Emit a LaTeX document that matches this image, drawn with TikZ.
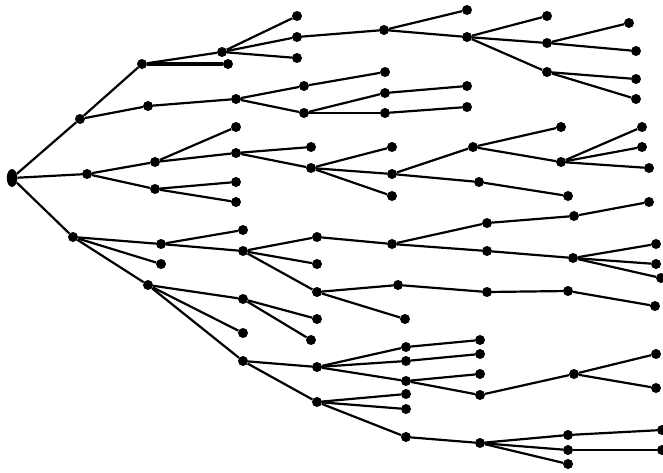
\documentclass[tikz,border=0pt]{standalone}
\usetikzlibrary{shapes.geometric}
\begin{document}
\begin{tikzpicture}[x=1pt,y=-1pt,
  dot/.style={circle,fill=black,inner sep=0pt,minimum size=10pt},
  rootdot/.style={ellipse,fill=black,inner sep=0pt,minimum width=10.5pt,minimum height=18pt},
  edge/.style={line width=2.2pt,black},
  thickedge/.style={line width=3.6pt,black}]
\useasboundingbox (0,0) rectangle (663,472);
\node[rootdot] (r) at (12,178) {};
\foreach \n/\x/\y in {
 a1/80/119, a2/87/174, a3/73/237,
 b1/142/64, b2/148/106,
 b11/222/52, b12/228/64,
 b111/297/16, b112/297/37, b113/297/58,
 b1121/384/30,
 t1/467/10, t2/467/37,
 t21/547/16, t22/547/43, t23/547/72,
 t221/629/23, t222/636/51, t231/636/79, t232/636/99,
 b21/236/99,
 b211/304/86, b212/304/113,
 b2111/385/72, b2121/385/93, b2122/385/113,
 b21211/467/86, b21221/467/107,
 c1/155/162, c2/155/189,
 c11/236/127, c12/236/153, c21/236/182, c22/236/202,
 c121/311/147, c122/311/168,
 c1221/392/147, c1222/392/174, c1223/392/196,
 d1/473/147, d2/479/182,
 d11/561/127, d12/561/162,
 d121/642/127, d122/642/147, d123/649/168,
 d21/568/196,
 e1/161/244, e2/161/264, e3/148/285,
 e11/243/230, e12/243/251,
 e121/317/237, e122/317/264, e123/317/292,
 f1/392/244,
 f11/487/223, f12/487/251,
 f111/574/216, f1111/649/202,
 f121/573/258, f1211/656/244, f1212/656/264, f1213/661/278,
 g1/398/285, g2/405/319,
 g11/487/292, g111/568/291, g1111/655/306,
 e31/243/299, e32/243/333, e33/243/361,
 e311/317/319, e312/311/340,
 e331/317/367, e332/317/402,
 h1/406/347, h2/406/361, h3/406/381,
 h11/480/340, h21/480/354, h31/480/374, h32/480/395,
 h321/574/374, h3211/656/354, h3212/656/388,
 k1/406/394, k2/406/409, k3/406/437,
 k31/480/443,
 k311/568/435, k312/568/450, k313/568/464,
 k3111/662/430, k3121/662/450}
 \node[dot] (\n) at (\x,\y) {};
\foreach \a/\b in {
 r/a1, r/a2, r/a3,
 a1/b1, a1/b2,
 b1/b11,
 b11/b111, b11/b112, b11/b113,
 b112/b1121, b1121/t1, b1121/t2,
 t2/t21, t2/t22, t2/t23,
 t22/t221, t22/t222, t23/t231, t23/t232,
 b2/b21, b21/b211, b21/b212,
 b211/b2111, b212/b2121, b212/b2122,
 b2121/b21211, b2122/b21221,
 a2/c1, a2/c2,
 c1/c11, c1/c12, c2/c21, c2/c22,
 c12/c121, c12/c122,
 c122/c1221, c122/c1222, c122/c1223,
 c1222/d1, c1222/d2,
 d1/d11, d1/d12,
 d12/d121, d12/d122, d12/d123,
 d2/d21,
 a3/e1, a3/e2, a3/e3,
 e1/e11, e1/e12,
 e12/e121, e12/e122, e12/e123,
 e121/f1, f1/f11, f1/f12,
 f11/f111, f111/f1111,
 f12/f121, f121/f1211, f121/f1212, f121/f1213,
 e123/g1, e123/g2,
 g1/g11, g11/g111, g111/g1111,
 e3/e31, e3/e32, e3/e33,
 e31/e311, e31/e312,
 e33/e331, e33/e332,
 e331/h1, e331/h2, e331/h3,
 h1/h11, h2/h21, h3/h31, h3/h32,
 h32/h321, h321/h3211, h321/h3212,
 e332/k1, e332/k2, e332/k3,
 k3/k31, k31/k311, k31/k312, k31/k313,
 k311/k3111, k312/k3121}
 \draw[edge] (\a) -- (\b);
\draw[thickedge] (b1) -- (b12);
\end{tikzpicture}
\end{document}
